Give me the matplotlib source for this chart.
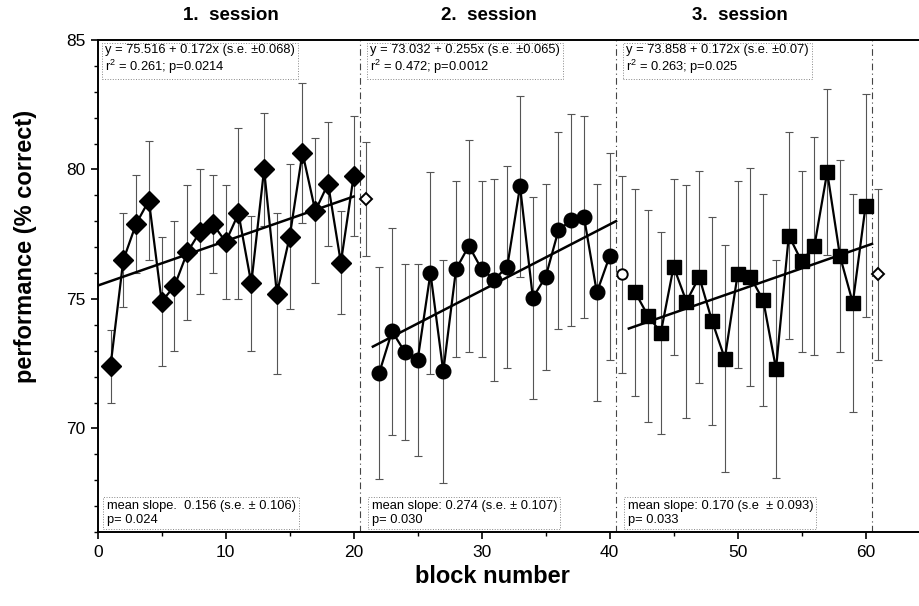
import numpy as np
import matplotlib
matplotlib.use("Agg")
import matplotlib.pyplot as plt
from matplotlib.ticker import MultipleLocator

plt.rcParams['font.family'] = ['Liberation Sans', 'DejaVu Sans']
plt.rcParams['mathtext.default'] = 'regular'

# block means and s.e. per session
s1_blocks = np.arange(1, 21)
s1_mean = [72.4, 76.5, 77.9, 78.8, 74.9, 75.5, 76.8, 77.6, 77.9, 77.2,
           78.3, 75.6, 80.0, 75.2, 77.4, 80.65, 78.4, 79.45, 76.4, 79.75]
s1_err = [1.4, 1.8, 1.9, 2.3, 2.5, 2.5, 2.6, 2.4, 1.9, 2.2,
          3.3, 2.6, 2.2, 3.1, 2.8, 2.7, 2.8, 2.4, 2.0, 2.3]

s2_blocks = np.arange(22, 41)
s2_mean = [72.15, 73.75, 72.95, 72.65, 76.0, 72.2, 76.15, 77.05, 76.15, 75.75,
           76.25, 79.35, 75.05, 75.85, 77.65, 78.05, 78.15, 75.25, 76.65]
s2_err = [4.1, 4.0, 3.4, 3.7, 3.9, 4.3, 3.4, 4.1, 3.4, 3.9,
          3.9, 3.5, 3.9, 3.6, 3.8, 4.1, 3.9, 4.2, 4.0]

s3_blocks = np.arange(42, 61)
s3_mean = [75.25, 74.35, 73.7, 76.25, 74.9, 75.85, 74.15, 72.7, 75.95, 75.85,
           74.95, 72.3, 77.45, 76.45, 77.05, 79.9, 76.65, 74.85, 78.6]
s3_err = [4.0, 4.1, 3.9, 3.4, 4.5, 4.1, 4.0, 4.4, 3.6, 4.2,
          4.1, 4.2, 4.0, 3.5, 4.2, 3.2, 3.7, 4.2, 4.3]

# transfer blocks between sessions (open symbols)
open_blocks = [21, 41, 61]
open_mean = [78.85, 75.95, 75.95]
open_err = [2.2, 3.8, 3.3]
open_marker = ['D', 'o', 'D']

# regression: intercept, slope, local x origin, fit range
fits = [(75.516, 0.172, 0.0, 0.0, 20.0),
        (73.032, 0.255, 21.0, 21.5, 40.5),
        (73.858, 0.172, 41.5, 41.5, 60.5)]

fit_text = ["y = 75.516 + 0.172x (s.e. \u00b10.068)\nr$^2$ = 0.261; p=0.0214",
            "y = 73.032 + 0.255x (s.e. \u00b10.065)\nr$^2$ = 0.472; p=0.0012",
            "y = 73.858 + 0.172x (s.e. \u00b10.07)\nr$^2$ = 0.263; p=0.025"]
slope_text = ["mean slope.  0.156 (s.e. \u00b1 0.106)\np= 0.024",
              "mean slope: 0.274 (s.e. \u00b1 0.107)\np= 0.030",
              "mean slope: 0.170 (s.e  \u00b1 0.093)\np= 0.033"]
session_titles = ["1.  session", "2.  session", "3.  session"]
title_x = [10.4, 30.6, 50.2]
text_x = [0.6, 21.3, 41.3]
session_breaks = [20.5, 40.5, 60.5]

fig = plt.figure(figsize=(9.2, 6.06), dpi=100)
ax = fig.add_axes([0.1062, 0.1221, 0.8938, 0.8119])

sessions = [(s1_blocks, s1_mean, s1_err, 'D', 10),
            (s2_blocks, s2_mean, s2_err, 'o', 10.5),
            (s3_blocks, s3_mean, s3_err, 's', 9.5)]

for blocks, mean, err, mk, ms in sessions:
    ax.errorbar(blocks, mean, yerr=err, fmt='none', ecolor='#555555',
                elinewidth=0.8, capsize=3, capthick=0.8, zorder=2)
    ax.plot(blocks, mean, color='black', lw=1.6, marker=mk, ms=ms,
            mfc='black', mec='black', zorder=4)

for b, m, e, mk in zip(open_blocks, open_mean, open_err, open_marker):
    ax.errorbar([b], [m], yerr=[e], fmt='none', ecolor='#555555',
                elinewidth=0.8, capsize=3, capthick=0.8, zorder=2)
    ax.plot([b], [m], marker=mk, ms=7.5 if mk == 'o' else 6.5, mfc='white',
            mec='black', mew=1.4, ls='none', zorder=5)

for a, b, x0, xa, xb in fits:
    xs = np.array([xa, xb])
    ax.plot(xs, a + b * (xs - x0), color='black', lw=1.8, zorder=3)

for xb in session_breaks:
    ax.axvline(xb, color='#444444', lw=0.8, ls=(0, (6, 3, 1, 3)), zorder=1)

box = dict(boxstyle='square,pad=0.25', fc='white', ec='#888888', lw=0.7, ls=':')
for i in range(3):
    ax.text(text_x[i], 84.85, fit_text[i], fontsize=9.3, va='top', ha='left',
            linespacing=1.15, bbox=box, zorder=6)
    ax.text(text_x[i] + 0.1, 66.25, slope_text[i], fontsize=9.3, va='bottom',
            ha='left', linespacing=1.15, bbox=box, zorder=6)
    ax.text(title_x[i], 85.6, session_titles[i], fontsize=13.5,
            fontweight='bold', ha='center', va='bottom')

ax.set_xlim(0, 64.25)
ax.set_ylim(66, 85)
ax.set_yticks([70, 75, 80, 85])
ax.set_xticks([0, 10, 20, 30, 40, 50, 60])
ax.xaxis.set_minor_locator(MultipleLocator(5))
ax.yaxis.set_minor_locator(MultipleLocator(1))
ax.tick_params(which='major', direction='out', length=5, width=1.2,
               labelsize=12.5, pad=4)
ax.tick_params(which='minor', direction='out', length=3, width=1.0)
ax.spines['right'].set_visible(False)
for s in ['left', 'bottom', 'top']:
    ax.spines[s].set_linewidth(1.4)

ax.set_xlabel('block number', fontsize=17, fontweight='bold')
ax.xaxis.set_label_coords(0.48, -0.068)
ax.set_ylabel('performance (% correct)', fontsize=17, fontweight='bold')
ax.yaxis.set_label_coords(-0.074, 0.58)

fig.savefig('out.png', dpi=100)
